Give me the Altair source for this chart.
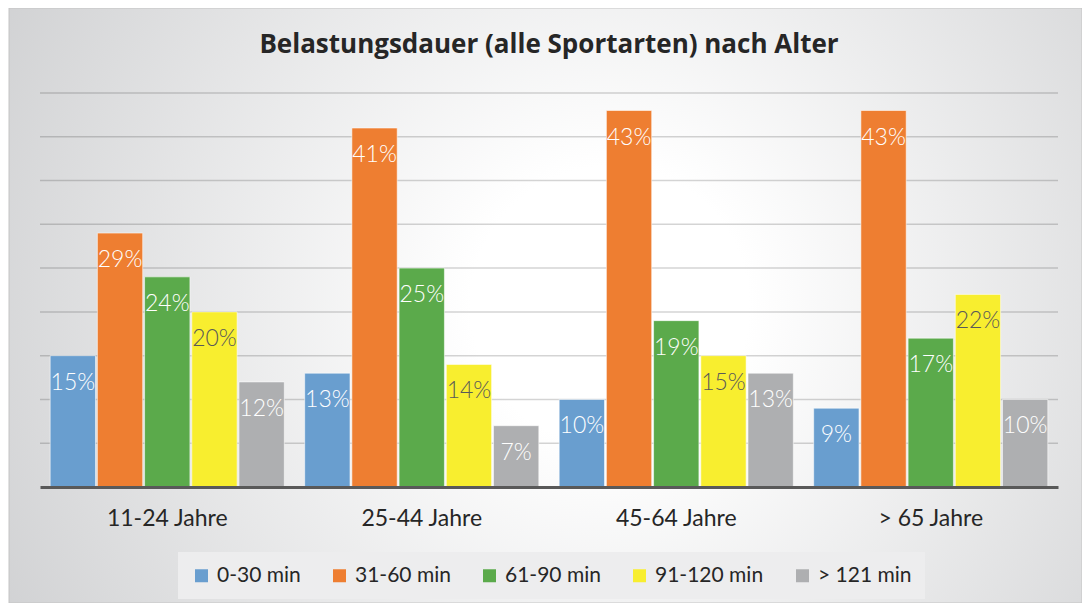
import altair as alt
import pandas as pd

ages = ["11-24 Jahre", "25-44 Jahre", "45-64 Jahre", "> 65 Jahre"]
durations = ["0-30 min", "31-60 min", "61-90 min", "91-120 min", "> 121 min"]
colors = ["#699ECF", "#EE7E31", "#5BAA4B", "#F8EE2F", "#AEAFB1"]

v_0_30 = [15, 13, 10, 9]
v_31_60 = [29, 41, 43, 43]
v_61_90 = [24, 25, 19, 17]
v_91_120 = [20, 14, 15, 22]
v_121 = [12, 7, 13, 10]

grid_values = [5, 10, 15, 20, 25, 30, 35, 40, 45]

series = [v_0_30, v_31_60, v_61_90, v_91_120, v_121]
rows = []
for d, vals in zip(durations, series):
    for a, v in zip(ages, vals):
        rows.append({"Alter": a, "Dauer": d, "Prozent": v})
df = pd.DataFrame(rows)

title = "Belastungsdauer (alle Sportarten) nach Alter"
FONT = "Lato"
W, H = 1018, 394

bg = alt.Chart(pd.DataFrame({"k": [0]})).mark_rect(
    fill=alt.RadialGradient(
        gradient="radial",
        stops=[
            alt.GradientStop(color="#FFFFFF", offset=0),
            alt.GradientStop(color="#FFFFFF", offset=0.18),
            alt.GradientStop(color="#C9CACC", offset=1),
        ],
        x1=0.56, y1=0.5, r1=0, x2=0.56, y2=0.5, r2=0.72,
    ),
    stroke="#C4C4C4",
    strokeWidth=1,
).encode(
    x=alt.value(-31), x2=alt.value(W + 24), y=alt.value(-85), y2=alt.value(H + 116)
)

y_scale = alt.Scale(domain=[0, 45], nice=False)

grid = alt.Chart(pd.DataFrame({"g": grid_values})).mark_rule(
    color="#000000", opacity=0.17, strokeWidth=1.5
).encode(
    y=alt.Y("g:Q", scale=y_scale, axis=None),
    x=alt.value(0),
    x2=alt.value(W),
)

title_mark = alt.Chart(pd.DataFrame({"t": [title]})).mark_text(
    font="Open Sans", fontSize=26, fontWeight="bold", color="#262626",
    align="center", baseline="alphabetic",
).encode(text="t:N", x=alt.value(W / 2), y=alt.value(-40))

x_enc = alt.X(
    "Alter:N",
    sort=ages,
    title=None,
    scale=alt.Scale(paddingInner=0.08, paddingOuter=0.04),
    axis=alt.Axis(
        labelAngle=0, labelFont=FONT, labelFontSize=23, labelColor="#262626",
        labelPadding=20, ticks=False, tickSize=0, domainColor="#595959", domainWidth=3,
        grid=False, zindex=1,
    ),
)
xo_enc = alt.XOffset("Dauer:N", sort=durations, scale=alt.Scale(paddingInner=0.04))
y_enc = alt.Y("Prozent:Q", title=None, scale=y_scale, axis=None)

bars = alt.Chart(df).mark_bar(stroke="#FFFFFF", strokeOpacity=0.55, strokeWidth=1).encode(
    x=x_enc,
    xOffset=xo_enc,
    y=y_enc,
    color=alt.Color(
        "Dauer:N",
        sort=durations,
        scale=alt.Scale(domain=durations, range=colors),
        legend=alt.Legend(
            title=None, orient="none", direction="horizontal",
            legendX=138, legendY=459,
            fillColor="#EDEDEE", padding=13,
            symbolType="square", symbolSize=169, symbolStrokeWidth=0,
            labelFont=FONT, labelFontSize=21, labelColor="#262626",
            labelOffset=5, columnPadding=28,
        ),
    ),
)

labels = alt.Chart(df).transform_calculate(
    lbl="datum.Prozent + '%'"
).mark_text(
    baseline="middle", dy=27, font=FONT, fontSize=23, fontWeight=300
).encode(
    x=alt.X("Alter:N", sort=ages),
    xOffset=alt.XOffset("Dauer:N", sort=durations),
    y=alt.Y("Prozent:Q", scale=y_scale),
    text="lbl:N",
    color=alt.condition(
        alt.datum.Dauer == "91-120 min", alt.value("#595959"), alt.value("#FFFFFF")
    ),
)

chart = alt.layer(bg, grid, title_mark, bars, labels).properties(
    width=W,
    height=H,
    autosize=alt.AutoSizeParams(type="none"),
    padding={"left": 32, "top": 85, "right": 24, "bottom": 116},
).configure_view(stroke=None).configure(background="#FFFFFF")

chart.save("out.html", embed_options={"renderer": "svg", "actions": False})
